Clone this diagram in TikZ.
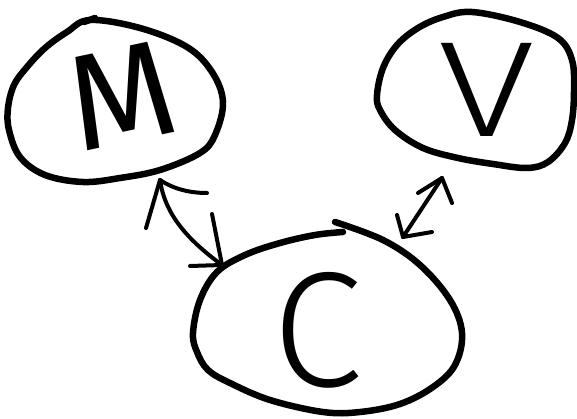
\documentclass[tikz,border=0pt]{standalone}
\usepackage{fontspec}
\setmainfont{Fira Sans}
\newfontfamily\lightfont{Fira Sans Light}
\begin{document}
\begin{tikzpicture}[x=1pt,y=-1pt,
  blob/.style={draw=black,line width=6.5pt,line cap=round,line join=round},
  arr/.style={draw=black,line width=4pt,line cap=round,line join=round},
  letter/.style={inner sep=0pt,text=black}]
\useasboundingbox[fill=white] (0,0) rectangle (577,419);
% blobs
\draw[blob] plot[smooth cycle,tension=0.6] coordinates {(90,20) (140,28) (187,47) (212,72) (223,102) (215,135) (200,153) (160,170) (120,178) (83,182) (45,175) (20,157) (9,130) (8,108) (14,85) (27,67) (45,48) (67,32)};
\draw[blob] (84,22) -- (95,18);
\draw[blob] plot[smooth cycle,tension=0.6] coordinates {(472,12) (520,22) (558,38) (572,60) (574,90) (572,120) (565,143) (548,162) (527,168) (493,164) (458,158) (423,148) (395,130) (380,110) (377,95) (383,68) (397,45) (418,28) (443,17)};
\draw[blob] plot[smooth,tension=0.6] coordinates {(335,222) (383,240) (420,265) (450,300) (462,333) (455,365) (433,387) (400,404) (360,412) (323,412) (270,400) (230,383) (208,370) (197,352) (193,333) (200,300) (217,272) (245,255) (280,243) (315,235) (343,232)};
% letters
\node[letter,font=\fontsize{136}{136}\selectfont,rotate=12] (M) at (122,96) {M};
\node[letter,font=\lightfont\fontsize{136}{136}\selectfont,xscale=1.3] (V) at (487,90) {V};
\node[letter,font=\lightfont\fontsize{164}{164}\selectfont] (C) at (318,330) {C};
% arrow ends
\coordinate (mcA) at (160,180);
\coordinate (mcB) at (222,265);
\coordinate (vcA) at (442,178);
\coordinate (vcB) at (403,237);
\draw[arr] (mcA) .. controls (165,215) and (188,240) .. (mcB);
\draw[arr] (mcA) -- (146,228);
\draw[arr] (mcA) .. controls (175,190) and (192,193) .. (207,193);
\draw[arr] (mcB) -- (212,214);
\draw[arr] (mcB) -- (190,266);
\draw[arr] (vcA) -- (vcB);
\draw[arr] (vcA) -- (418,193);
\draw[arr] (vcA) -- (452,203);
\draw[arr] (vcB) -- (397,215);
\draw[arr] (vcB) -- (432,232);
\end{tikzpicture}
\end{document}
